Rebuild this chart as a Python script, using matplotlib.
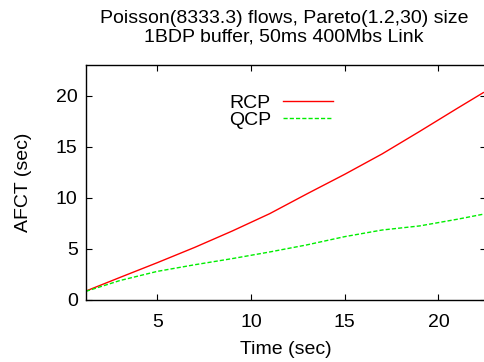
import matplotlib
matplotlib.use("Agg")
import matplotlib.pyplot as plt

plt.rcParams['font.family'] = ['Liberation Sans', 'DejaVu Sans']

time_rcp = [1.2, 3, 5, 7, 9, 11, 13, 15, 17, 19, 21, 22.4]
afct_rcp = [0.88, 2.2, 3.65, 5.15, 6.75, 8.45, 10.4, 12.3, 14.3, 16.5, 18.75, 20.3]
time_qcp = [1.2, 3, 5, 7, 9, 11, 13, 15, 17, 19, 21, 22.4]
afct_qcp = [0.85, 1.9, 2.8, 3.45, 4.05, 4.7, 5.4, 6.2, 6.85, 7.25, 7.9, 8.4]
xticks = [5, 10, 15, 20]
yticks = [0, 5, 10, 15, 20]

FS = 14

fig = plt.figure(figsize=(4.84, 3.62), dpi=100)
ax = fig.add_axes([86/484, 62/362, 400/484, 235/362])

ax.plot(time_rcp, afct_rcp, color='#ff0000', lw=1.0, label='RCP')
ax.plot(time_qcp, afct_qcp, color='#00ee00', lw=1.0, dashes=(3, 1.5), label='QCP')

ax.set_xlim(1.2, 22.54)
ax.set_ylim(0, 23)
ax.set_xticks(xticks)
ax.set_yticks(yticks)
ax.tick_params(direction='in', length=4, width=0.8, top=True, right=True, labelsize=FS)
ax.tick_params(axis='x', pad=10)
ax.tick_params(axis='y', pad=6)
for s in ax.spines.values():
    s.set_linewidth(1.0)

ax.set_xlabel('Time (sec)', fontsize=FS, labelpad=7)
ax.set_ylabel('AFCT (sec)', fontsize=FS, labelpad=17)
ax.set_title('Poisson(8333.3) flows, Pareto(1.2,30) size\n1BDP buffer, 50ms 400Mbs Link',
             fontsize=FS, pad=17, linespacing=1.1, x=0.495)

ax.legend(loc='center', bbox_to_anchor=(281/484, (362-111.5)/362), bbox_transform=fig.transFigure,
          markerfirst=False, frameon=False, fontsize=FS, handlelength=2.6,
          handletextpad=0.6, labelspacing=0.0, borderpad=0)

fig.savefig('out.png', dpi=100)
